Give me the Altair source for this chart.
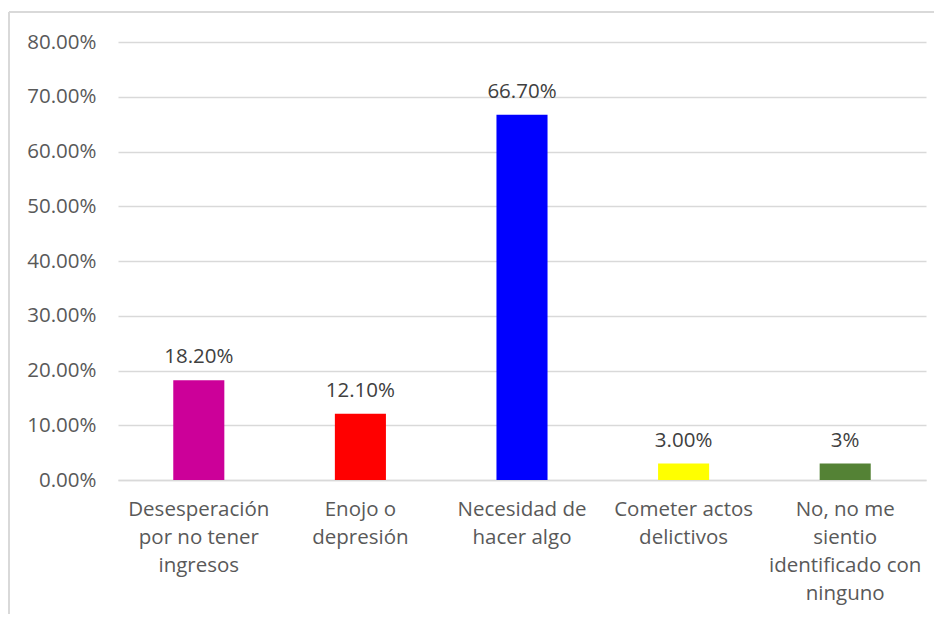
import altair as alt
import pandas as pd
import json

categories = [
    "Desesperación por no tener ingresos",
    "Enojo o depresión",
    "Necesidad de hacer algo",
    "Cometer actos delictivos",
    "No, no me sientio identificado con ninguno",
]
label_lines = [
    ["Desesperación", "por no tener", "ingresos"],
    ["Enojo o", "depresión"],
    ["Necesidad de", "hacer algo"],
    ["Cometer actos", "delictivos"],
    ["No, no me", "sientio", "identificado con", "ninguno"],
]
values = [0.182, 0.121, 0.667, 0.030, 0.030]
value_labels = ["18.20%", "12.10%", "66.70%", "3.00%", "3%"]
colors = ["#CC0099", "#FF0000", "#0000FF", "#FFFF00", "#548235"]
y_ticks = [0, 0.1, 0.2, 0.3, 0.4, 0.5, 0.6, 0.7, 0.8]

df = pd.DataFrame({
    "cat": categories,
    "value": values,
    "vlabel": value_labels,
    "color": colors,
})

mapping = {c: l for c, l in zip(categories, label_lines)}
label_expr = f"{json.dumps(mapping, ensure_ascii=False)}[datum.value]"

FONT = "Open Sans"
TXT = "#595959"
FS = 20.5

x = alt.X(
    "cat:N",
    sort=categories,
    title=None,
    scale=alt.Scale(paddingInner=0.684, paddingOuter=0.342),
    axis=alt.Axis(
        labelExpr=label_expr,
        labelAngle=0,
        labelFontSize=FS,
        labelFont=FONT,
        labelColor=TXT,
        labelLineHeight=28,
        labelPadding=19,
        ticks=False,
        grid=False,
        domain=True,
        domainColor="#D9D9D9",
        domainWidth=1.5,
        labelLimit=250,
        labelBaseline="top",
    ),
)
y = alt.Y(
    "value:Q",
    title=None,
    scale=alt.Scale(domain=[0, 0.8], nice=False),
    axis=alt.Axis(
        values=y_ticks,
        format=".2%",
        labelFontSize=FS,
        labelFont=FONT,
        labelColor=TXT,
        labelPadding=22,
        ticks=False,
        domain=False,
        grid=True,
        gridColor="#D9D9D9",
        gridWidth=1.5,
    ),
)

base = alt.Chart(df)
bars = base.mark_bar().encode(
    x=x, y=y, color=alt.Color("color:N", scale=None, legend=None)
)
text = base.mark_text(
    baseline="bottom", dy=-13, fontSize=FS, font=FONT, color="#404040"
).encode(x=x, y=y, text="vlabel:N")

frame_left = alt.Chart(df).mark_rule(color="#D9D9D9", strokeWidth=1.5).encode(
    x=alt.value(-109), y=alt.value(-30), y2=alt.value(620)
)
frame_top = alt.Chart(df).mark_rule(color="#D9D9D9", strokeWidth=1.5).encode(
    x=alt.value(-109), x2=alt.value(840), y=alt.value(-30)
)

chart = (
    alt.layer(frame_left, frame_top, bars, text)
    .properties(
        width=808,
        height=438,
        background="white",
        padding={"left": 110, "top": 34, "right": 8, "bottom": 134},
        autosize=alt.AutoSizeParams(type="none"),
    )
    .configure_view(strokeWidth=0, strokeOpacity=0)
)

chart.save("out.html", embed_options={"renderer": "svg", "actions": False})
